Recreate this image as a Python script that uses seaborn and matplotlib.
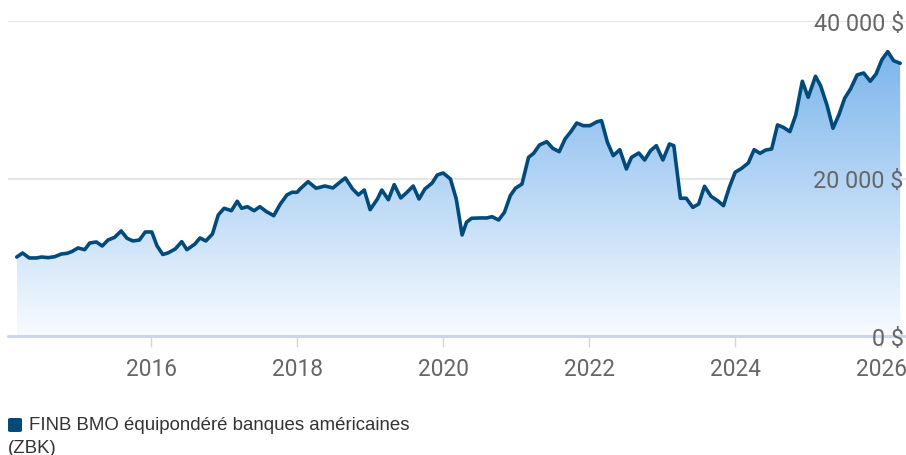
import numpy as np
import pandas as pd
import matplotlib.pyplot as plt
import seaborn as sns
from matplotlib.colors import LinearSegmentedColormap
from matplotlib.patches import FancyBboxPatch
import matplotlib.transforms as mtransforms

# values (decimal year, value in $)
years = [
    2014.16, 2014.24, 2014.33, 2014.43, 2014.50, 2014.59, 2014.68, 2014.77, 2014.85, 2014.91,
    2015.00, 2015.09, 2015.16, 2015.25, 2015.33, 2015.41, 2015.50, 2015.59, 2015.67, 2015.75,
    2015.84, 2015.92, 2016.01, 2016.08, 2016.16, 2016.23, 2016.33, 2016.42, 2016.49, 2016.60,
    2016.67, 2016.75, 2016.84, 2016.92, 2017.00, 2017.10, 2017.18, 2017.24, 2017.32, 2017.41,
    2017.49, 2017.58, 2017.68, 2017.77, 2017.86, 2017.93, 2018.00, 2018.04, 2018.15, 2018.26,
    2018.38, 2018.49, 2018.59, 2018.66, 2018.76, 2018.84, 2018.92, 2019.00, 2019.10, 2019.16,
    2019.25, 2019.33, 2019.42, 2019.51, 2019.59, 2019.67, 2019.75, 2019.85, 2019.92, 2020.00,
    2020.10, 2020.18, 2020.26, 2020.32, 2020.39, 2020.51, 2020.60, 2020.67, 2020.76, 2020.84,
    2020.92, 2020.99, 2021.08, 2021.17, 2021.24, 2021.32, 2021.42, 2021.50, 2021.59, 2021.67,
    2021.75, 2021.83, 2021.92, 2022.01, 2022.11, 2022.17, 2022.25, 2022.33, 2022.42, 2022.51,
    2022.58, 2022.68, 2022.76, 2022.84, 2022.92, 2023.01, 2023.10, 2023.16, 2023.25, 2023.33,
    2023.42, 2023.50, 2023.58, 2023.67, 2023.76, 2023.84, 2023.92, 2024.00, 2024.09, 2024.18,
    2024.26, 2024.34, 2024.42, 2024.50, 2024.58, 2024.66, 2024.75, 2024.83, 2024.92, 2025.00,
    2025.10, 2025.17, 2025.26, 2025.34, 2025.42, 2025.50, 2025.58, 2025.67, 2025.76, 2025.85,
    2025.93, 2026.01, 2026.09, 2026.17, 2026.26,
]
values = [
    10030, 10540, 9910, 9910, 10030, 9950, 10070, 10410, 10500, 10700,
    11180, 10960, 11810, 11940, 11430, 12190, 12530, 13340, 12410, 12070,
    12190, 13210, 13210, 11470, 10350, 10540, 11050, 11980, 10960, 11680,
    12450, 12070, 12950, 15370, 16220, 15910, 17110, 16220, 16420, 15910,
    16420, 15790, 15280, 16760, 17910, 18250, 18250, 18670, 19600, 18760,
    19050, 18800, 19560, 20070, 18670, 17920, 18540, 16040, 17400, 18540,
    17310, 19220, 17530, 18290, 19050, 17400, 18670, 19430, 20450, 20700,
    19940, 17400, 12830, 14440, 14950, 14990, 14990, 15150, 14730, 15710,
    17820, 18760, 19300, 22690, 23200, 24260, 24680, 23840, 23410, 25020,
    25950, 27050, 26710, 26710, 27220, 27340, 24600, 22900, 23660, 21210,
    22690, 23240, 22350, 23530, 24170, 22350, 24380, 24170, 17490, 17490,
    16340, 16760, 19010, 17740, 17180, 16550, 18880, 20790, 21300, 21970,
    23660, 23200, 23620, 23750, 26800, 26500, 25950, 28070, 32350, 30310,
    32980, 31790, 29250, 26380, 28070, 30190, 31370, 33150, 33400, 32350,
    33270, 35090, 36110, 34960, 34630,
]
x_ticks = [2016, 2018, 2020, 2022, 2024, 2026]
y_ticks = [0, 20000, 40000]
y_labels = ["0 $", "20 000 $", "40 000 $"]
series_name = "FINB BMO équipondéré banques américaines"
series_code = "(ZBK)"

line_color = "#004a7c"
fill_top = "#7cb5ec"

df = pd.DataFrame({"year": years, "value": values})

sns.set_style("white")
plt.rcParams["font.family"] = ["Roboto", "DejaVu Sans"]

fig = plt.figure(figsize=(9.06, 4.56), dpi=100)
ax = fig.add_axes([8 / 906, 119 / 456, 898 / 906, 315 / 456])

# gradient area under the line
cmap = LinearSegmentedColormap.from_list("fill", ["#f8fbff", fill_top])
grad = np.linspace(0, 1, 256).reshape(-1, 1)
im = ax.imshow(grad, cmap=cmap, origin="lower", aspect="auto",
               extent=[df.year.min(), df.year.max(), 0, df.value.max()], zorder=1)
area = ax.fill_between(df.year, df.value, 0, color="none", lw=0)
im.set_clip_path(area.get_paths()[0], transform=ax.transData)

sns.lineplot(data=df, x="year", y="value", color=line_color, lw=2.6, ax=ax, zorder=3)
ax.set_xlim(2014.04, 2026.34)
ax.set_ylim(0, 40000)

# grid and baseline
for v in y_ticks[1:]:
    ax.axhline(v, color="#e6e6e6", lw=1.5, zorder=0.5)
ax.axhline(0, color="#ccd6eb", lw=2.2, zorder=2, clip_on=False)

for s in ax.spines.values():
    s.set_visible(False)

ax.set_yticks([])
ax.set_xticks(x_ticks)
ax.set_xticklabels([str(t) for t in x_ticks])
ax.tick_params(axis="x", length=8, width=1, color="#ccd6eb", pad=7,
               labelsize=16.3, labelcolor="#666666", bottom=True)
ax.set_xlabel("")
ax.set_ylabel("")

trans = mtransforms.blended_transform_factory(ax.transAxes, ax.transData)
for v, lab in zip(y_ticks, y_labels):
    ax.text(0.9975, v, lab, transform=trans, ha="right", va="center_baseline",
            fontsize=16.8, color="#666666", zorder=4)

# legend drawn by hand: square, name, then code on the next line
fig.patches.append(FancyBboxPatch((8 / 906, (456 - 433) / 456), 14 / 906, 14 / 456,
                                  boxstyle="round,pad=0,rounding_size=0.003",
                                  transform=fig.transFigure, fc=line_color, ec="none"))
fig.text(29 / 906, (456 - 426) / 456, series_name, fontsize=13.4,
         family=["Liberation Sans", "DejaVu Sans"], color="#333333", va="center")
fig.text(8 / 906, (456 - 449) / 456, series_code, fontsize=13.4,
         family=["Liberation Sans", "DejaVu Sans"], color="#333333", va="center")

fig.savefig("out.png", dpi=100)
